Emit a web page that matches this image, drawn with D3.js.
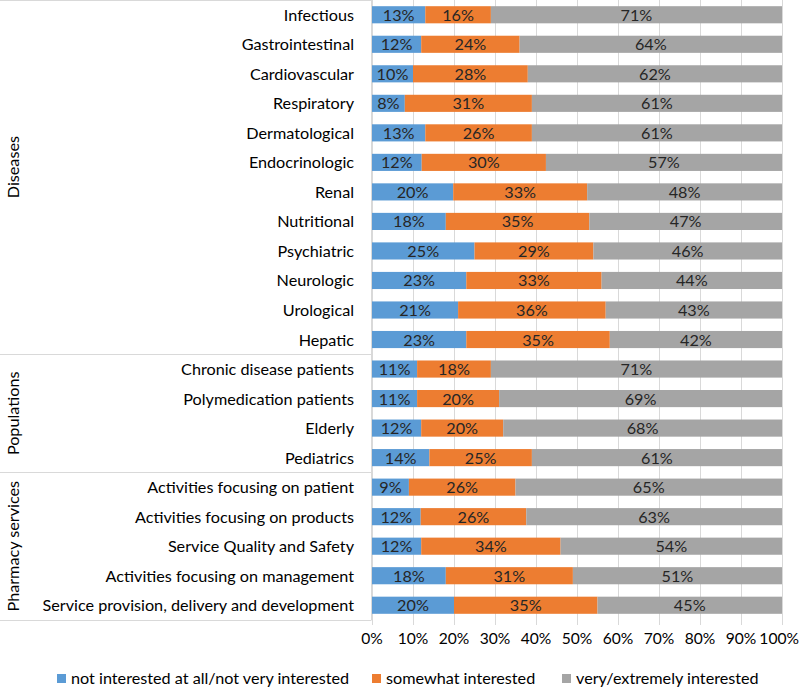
<!DOCTYPE html>
<html><head><meta charset="utf-8">
<script src="https://cdn.jsdelivr.net/npm/d3@7"></script>
<style>body{margin:0;background:#fff;} svg{display:block;}</style>
</head><body>
<svg id="c" width="800" height="688"></svg>
<script>
const categories = ["Infectious","Gastrointestinal","Cardiovascular","Respiratory","Dermatological","Endocrinologic","Renal","Nutritional","Psychiatric","Neurologic","Urological","Hepatic",
 "Chronic disease patients","Polymedication patients","Elderly","Pediatrics",
 "Activities focusing on patient","Activities focusing on products","Service Quality and Safety","Activities focusing on management","Service provision, delivery and development"];
const notInterested = [13,12,10,8,13,12,20,18,25,23,21,23,11,11,12,14,9,12,12,18,20];
const somewhat      = [16,24,28,31,26,30,33,35,29,33,36,35,18,20,20,25,26,26,34,31,35];
const very          = [71,64,62,61,61,57,48,47,46,44,43,42,71,69,68,61,65,63,54,51,45];
const groups = [{name:"Diseases", from:0, to:12},{name:"Populations", from:12, to:16},{name:"Pharmacy services", from:16, to:21}];
const seriesNames = ["not interested at all/not very interested","somewhat interested","very/extremely interested"];
const colors = ["#5B9BD5","#ED7D31","#A5A5A5"];
const xTicks = [0,0.1,0.2,0.3,0.4,0.5,0.6,0.7,0.8,0.9,1];

const FONT = "Lato, 'Open Sans', sans-serif";
const FS = 16.2;
const svg = d3.select("#c");
const x = d3.scaleLinear().domain([0,1]).range([372,782]);
const y = d3.scaleBand().domain(categories).range([0,620]).paddingInner(0.42).paddingOuter(0.21);
const step = y.step();

// gridlines
svg.append("g").selectAll("line").data(xTicks).join("line")
  .attr("x1",d=>Math.round(x(d))+0.5).attr("x2",d=>Math.round(x(d))+0.5)
  .attr("y1",0).attr("y2",625).attr("stroke","#D9D9D9").attr("stroke-width",1);

// left category frame
const frame = svg.append("g").attr("stroke","#D9D9D9").attr("stroke-width",1);
frame.append("line").attr("x1",371.5).attr("x2",371.5).attr("y1",0).attr("y2",620);
const bounds = [0].concat(groups.map(g=>g.to));
frame.selectAll("line.h").data(bounds).join("line").attr("class","h")
  .attr("x1",0).attr("x2",371.5)
  .attr("y1",d=>Math.round(d*step)+0.5).attr("y2",d=>Math.round(d*step)+0.5);

// stacked data
const rows = categories.map((c,i)=>({cat:c, a:notInterested[i], b:somewhat[i], c:very[i]}));
const stack = d3.stack().keys(["a","b","c"]).offset(d3.stackOffsetExpand);
const series = stack(rows);
const labelsRaw = [notInterested, somewhat, very];

const sg = svg.append("g").selectAll("g").data(series).join("g").attr("fill",(d,i)=>colors[i]);
sg.selectAll("rect").data(d=>d).join("rect")
  .attr("x",d=>x(d[0])).attr("width",d=>x(d[1])-x(d[0]))
  .attr("y",d=>y(d.data.cat)).attr("height",y.bandwidth());

const lg = svg.append("g").attr("font-family",FONT).attr("font-size",FS).attr("fill","#262626").attr("text-anchor","middle");
series.forEach((s,si)=>{
  lg.selectAll(null).data(s).join("text")
    .attr("x",d=>(x(d[0])+x(d[1]))/2)
    .attr("y",d=>y(d.data.cat)+y.bandwidth()/2+6)
    .text((d,i)=>labelsRaw[si][i]+"%");
});

// category labels
svg.append("g").attr("font-family",FONT).attr("font-size",FS).attr("fill","#000").attr("text-anchor","end")
  .selectAll("text").data(categories).join("text")
  .attr("x",354).attr("y",d=>y(d)+y.bandwidth()/2+6).text(d=>d);

// group labels
svg.append("g").attr("font-family",FONT).attr("font-size",FS).attr("fill","#000").attr("text-anchor","middle")
  .selectAll("text").data(groups).join("text")
  .attr("transform",d=>`translate(19,${(d.from+d.to)/2*step - (d.name==="Diseases"?10:0)}) rotate(-90)`).text(d=>d.name);

// x axis labels
svg.append("g").attr("font-family",FONT).attr("font-size",15.6).attr("fill","#000").attr("text-anchor","middle")
  .selectAll("text").data(xTicks).join("text")
  .attr("y",644).text(d=>d3.format(".0%")(d))
  .attr("x",function(d){ const w=this.getComputedTextLength(); return Math.min(x(d), 799 - w/2); });

// legend
const legX = [57,372,562];
const leg = svg.append("g").attr("font-family",FONT).attr("font-size",FS).attr("fill","#000");
seriesNames.forEach((n,i)=>{
  leg.append("rect").attr("x",legX[i]).attr("y",674).attr("width",9).attr("height",9).attr("fill",colors[i]);
  leg.append("text").attr("x",legX[i]+14).attr("y",684).text(n);
});
</script>
</body></html>
